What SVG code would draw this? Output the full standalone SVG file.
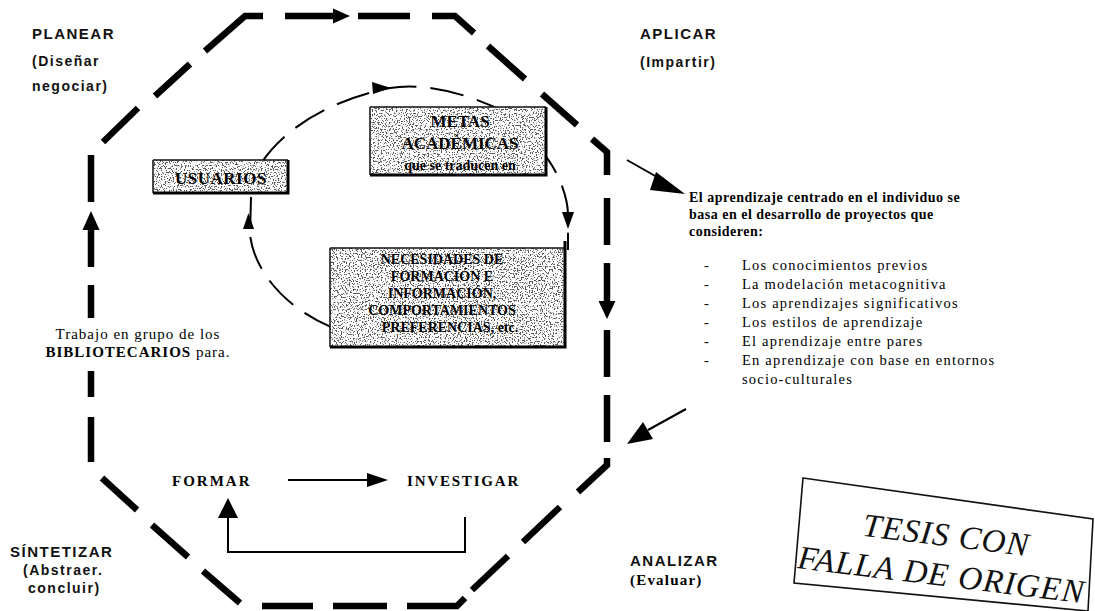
<svg xmlns="http://www.w3.org/2000/svg" width="1095" height="611" viewBox="0 0 1095 611">
  <style>
    .oct { fill: none; stroke: #000; stroke-width: 6.5; stroke-linejoin: miter; }
    .inner { fill: none; stroke: #000; stroke-width: 2; stroke-dasharray: 34 14; }
    .thin { fill: none; stroke: #000; stroke-width: 2; }
    .head { fill: #000; }
    .phase { font-family: "Liberation Sans", Arial, sans-serif; font-weight: bold; font-size: 15px; letter-spacing: 1.5px; fill: #111; }
    .sub { font-family: "Liberation Sans", Arial, sans-serif; font-weight: bold; font-size: 14px; letter-spacing: 1.5px; fill: #111; }
    .serifb { font-family: "Liberation Serif", "Times New Roman", serif; font-weight: bold; fill: #000; }
    .serif { font-family: "Liberation Serif", "Times New Roman", serif; fill: #000; }
    .box { fill: #fff; filter: url(#speckle); }
    .edge { fill: none; stroke: #111; stroke-width: 1.5; }
    .edgeh { fill: none; stroke: #000; stroke-width: 3; }
    .stamp { font-family: "Liberation Serif", "Times New Roman", serif; font-style: italic; font-size: 33px; fill: #111; }
  </style>
  <defs>
    <!-- grainy halftone fill used by the three boxes -->
    <filter id="speckle" x="0" y="0" width="1" height="1">
      <feTurbulence type="fractalNoise" baseFrequency="0.75" numOctaves="1" seed="7" result="noise"/>
      <feColorMatrix in="noise" type="matrix" values="0 0 0 0 0.1  0 0 0 0 0.1  0 0 0 0 0.1  14 0 0 0 -7.5" result="dots"/>
      <feFlood flood-color="#ffffff" result="bg"/>
      <feMerge result="m"><feMergeNode in="bg"/><feMergeNode in="dots"/></feMerge>
      <feComposite in="m" in2="SourceAlpha" operator="in"/>
    </filter>
  </defs>

  <rect width="1095" height="611" fill="#fff"/>

  <!-- connectors: dashed octagon cycle, inner cycle, side arrows, FORMAR/INVESTIGAR loop -->
  <g id="connectors">
    <!-- octagon, top-left diagonal and top edge -->
    <path class="oct" d="M103,142 L138,108 M155,96 L190,64 M205,51 L245,16 L263,16 M285,16 L334,16 M358,16 L410,16 M432,16 L455,16 L474,33"/>
    <!-- top-right diagonal and right side -->
    <path class="oct" d="M488,46 L525,79 M542,94 L577,125 M592,139 L607,152 L607,175 M607,198 L607,245 M607,263 L607,303 M607,330 L607,377 M607,395 L607,442 M607,458 L607,465 L578,492"/>
    <!-- bottom-right diagonal and bottom edge -->
    <path class="oct" d="M560,507 L523,542 M508,556 L472,590 M465,598 L457,606 L407,606 M387,606 L333,606 M313,606 L262,606"/>
    <!-- bottom-left diagonal and left side -->
    <path class="oct" d="M240,603 L203,571 M188,557 L152,525 M137,510 L102,478 M91,462 L91,417 M91,397 L91,371 M91,318 L91,285 M91,267 L91,226 M91,202 L91,155"/>
    <polygon class="head" points="333,8.5 350,16 333,23.5"/>
    <polygon class="head" points="598.5,301 615.5,301 607,319"/>
    <polygon class="head" points="82.5,230 99.5,230 91,211"/>

    <!-- inner cycle -->
    <path class="inner" d="M262,162 C285,128 330,100 390,88 C420,83 460,90 505,112"/>
    <path class="inner" stroke-dashoffset="6" d="M540,150 C556,166 568,195 568,215 L568,250"/>
    <path class="inner" stroke-dashoffset="4" d="M331,327 C290,310 255,275 250,235 L251,197"/>
    <polygon class="head" points="372,82 391,88 373,94"/>
    <polygon class="head" points="562,212 574,212 568,229"/>
    <polygon class="head" points="243,229 254,229 248.5,213"/>

    <!-- side arrows to and from the text block -->
    <line class="thin" x1="627" y1="160" x2="664" y2="181" stroke-width="5"/>
    <polygon class="head" points="656,172 685,194 650,190"/>
    <line class="thin" x1="686" y1="409" x2="648" y2="430" stroke-width="5"/>
    <polygon class="head" points="653,439 627,444 643,422"/>

    <!-- FORMAR -> INVESTIGAR and return -->
    <line class="thin" x1="288" y1="480" x2="369" y2="480"/>
    <polygon class="head" points="367,473 388,480 367,487"/>
    <polyline class="thin" points="465,517 465,552 228,552 228,517"/>
    <polygon class="head" points="218,518 238,518 228,498"/>
  </g>

  <!-- phase labels -->
  <g id="planear">
    <text class="phase" x="32" y="39">PLANEAR</text>
    <text class="sub" x="32" y="66">(Diseñar</text>
    <text class="sub" x="32" y="91">negociar)</text>
  </g>
  <g id="aplicar">
    <text class="phase" x="640" y="39">APLICAR</text>
    <text class="sub" x="640" y="67">(Impartir)</text>
  </g>
  <g id="sintetizar">
    <text class="phase" x="10" y="557">SÍNTETIZAR</text>
    <text class="sub" x="23" y="575">(Abstraer.</text>
    <text class="sub" x="28" y="593">concluir)</text>
  </g>
  <g id="analizar">
    <text class="phase" x="630" y="566">ANALIZAR</text>
    <text class="serifb" x="630" y="585" font-size="15" letter-spacing="1.2">(Evaluar)</text>
  </g>

  <!-- USUARIOS box -->
  <g id="usuarios">
    <rect class="box" x="153" y="160" width="135" height="33"/>
    <path class="edge" d="M153,160 H288"/>
    <path class="edgeh" d="M153,193 H288 V160"/>
    <path class="edge" d="M153,160 V193"/>
    <text class="serifb" x="221" y="184" font-size="17" text-anchor="middle" letter-spacing="0.5">USUARIOS</text>
  </g>

  <!-- METAS ACADÉMICAS box -->
  <g id="metas">
    <rect class="box" x="370" y="107" width="176" height="68"/>
    <path class="edge" d="M370,107 H546 M370,107 V175"/>
    <path class="edgeh" d="M370,175 H546 V107"/>
    <text class="serifb" x="460" y="127" font-size="17" text-anchor="middle">METAS</text>
    <text class="serifb" x="460" y="149" font-size="17" text-anchor="middle">ACADÉMICAS</text>
    <text class="serifb" x="460" y="170" font-size="14" text-anchor="middle">que se traducen en</text>
  </g>

  <!-- NECESIDADES box -->
  <g id="necesidades">
    <rect class="box" x="330" y="248" width="235" height="99"/>
    <path class="edge" d="M330,248 H565 M330,248 V347"/>
    <path class="edgeh" d="M330,347 H565 V241"/>
    <g class="serifb" font-size="14" text-anchor="middle">
      <text x="442" y="264">NECESIDADES DE</text>
      <text x="442" y="281">FORMACIÓN E</text>
      <text x="442" y="298">INFORMACIÓN,</text>
      <text x="442" y="315">COMPORTAMIENTOS</text>
      <text x="450" y="332">PREFERENCIAS, etc.</text>
    </g>
  </g>

  <!-- librarians note -->
  <g id="bibliotecarios">
    <rect x="40" y="322" width="198" height="42" fill="#fff"/>
    <text class="serif" x="138" y="339" font-size="15" text-anchor="middle" letter-spacing="1">Trabajo en grupo de los</text>
    <text x="138" y="357" font-size="15" text-anchor="middle" letter-spacing="1"><tspan class="serifb">BIBLIOTECARIOS</tspan><tspan class="serif"> para.</tspan></text>
  </g>

  <!-- FORMAR / INVESTIGAR -->
  <g id="formar">
    <text class="serifb" x="172" y="486" font-size="15" letter-spacing="2">FORMAR</text>
  </g>
  <g id="investigar">
    <text class="serifb" x="407" y="486" font-size="15" letter-spacing="1.8">INVESTIGAR</text>
  </g>

  <!-- learning text block -->
  <g id="aprendizaje">
    <g class="serifb" font-size="14" letter-spacing="0.5">
      <text x="689" y="202">El aprendizaje centrado en el individuo se</text>
      <text x="689" y="219">basa en el desarrollo de proyectos que</text>
      <text x="689" y="236">consideren:</text>
    </g>
    <g class="serif" font-size="14.5" letter-spacing="1.2">
      <text x="704" y="270">-</text><text x="742" y="270">Los conocimientos previos</text>
      <text x="704" y="289">-</text><text x="742" y="289">La modelación metacognitiva</text>
      <text x="704" y="308">-</text><text x="742" y="308">Los aprendizajes significativos</text>
      <text x="704" y="327">-</text><text x="742" y="327">Los estilos de aprendizaje</text>
      <text x="704" y="346">-</text><text x="742" y="346">El aprendizaje entre pares</text>
      <text x="704" y="365">-</text><text x="742" y="365">En aprendizaje con base en entornos</text>
      <text x="742" y="384">socio-culturales</text>
    </g>
  </g>

  <!-- stamp -->
  <g id="stamp">
    <polygon points="803,478 1093,519 1088,611 794,583" fill="none" stroke="#111" stroke-width="1.6"/>
    <g transform="rotate(7 945 545)">
      <text class="stamp" x="945" y="546" text-anchor="middle" letter-spacing="1">TESIS CON</text>
      <text class="stamp" x="945" y="586" text-anchor="middle" letter-spacing="1">FALLA DE ORIGEN</text>
    </g>
  </g>
</svg>
